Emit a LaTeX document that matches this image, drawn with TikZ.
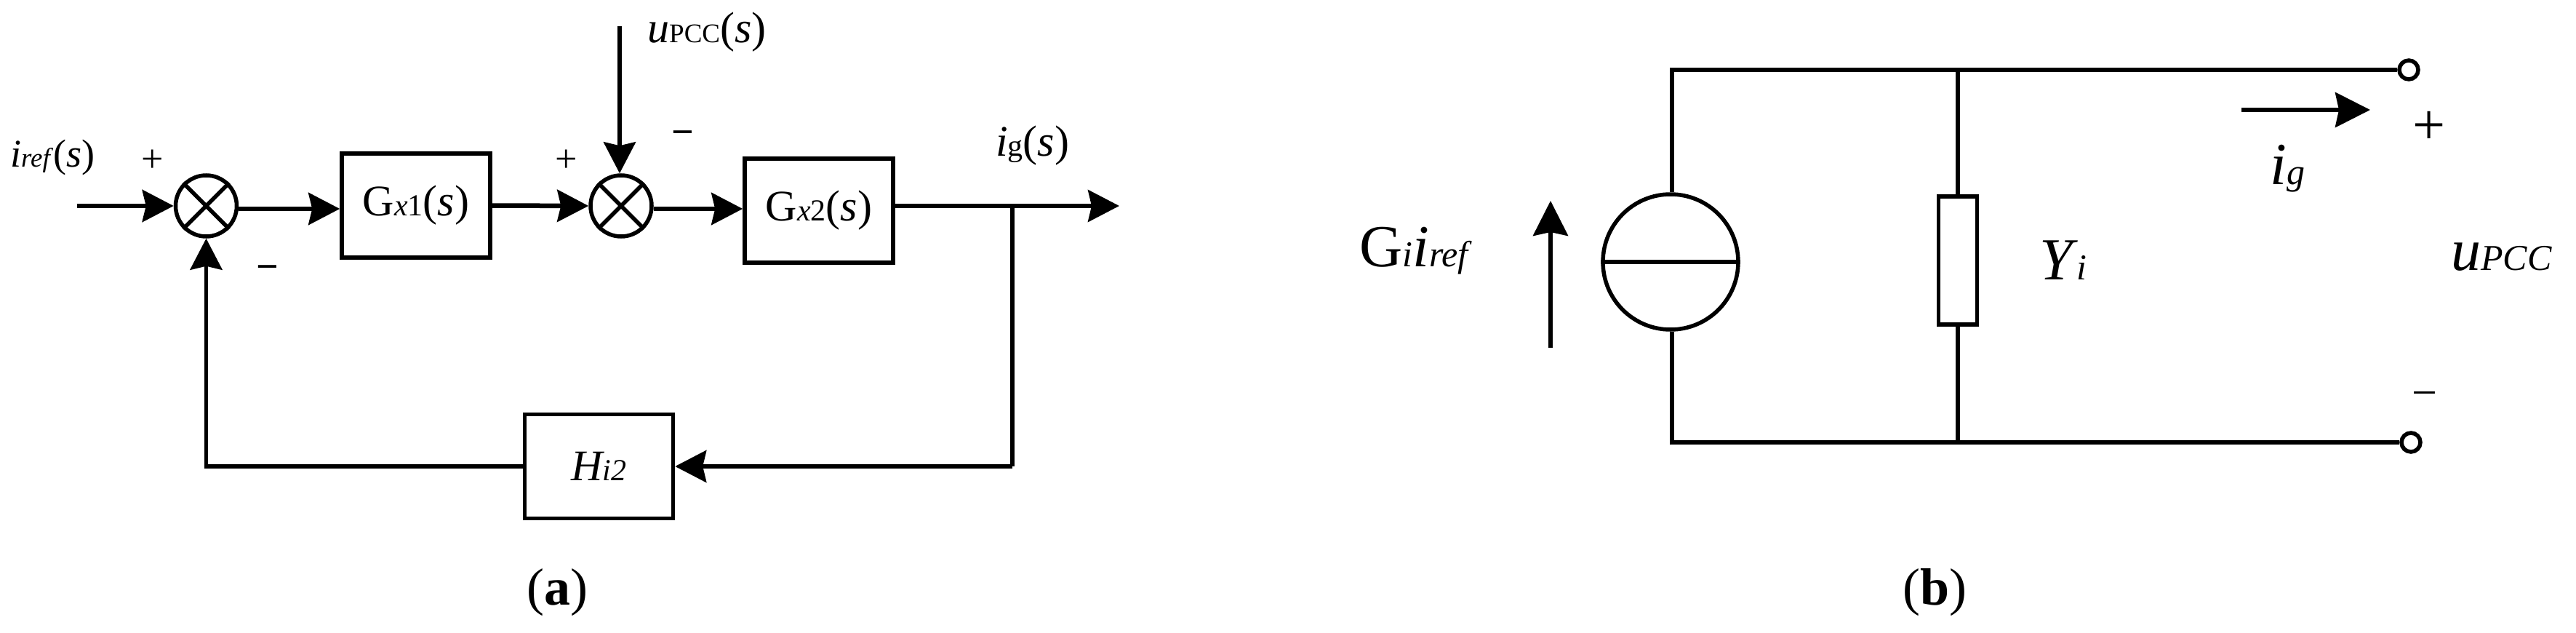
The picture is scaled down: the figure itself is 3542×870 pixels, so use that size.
\documentclass[tikz,border=0pt]{standalone}
\usepackage{fontspec}
\setmainfont{Liberation Serif}
\usetikzlibrary{arrows.meta,calc}
\newcommand{\lo}[1]{{\fontsize{42}{42}\selectfont #1}}
\newcommand{\loo}[1]{{\fontsize{37}{37}\selectfont #1}}
\newcommand{\lob}[1]{{\fontsize{50}{50}\selectfont #1}}
\tikzset{
  wire/.style={line width=5.5pt,black},
  flow/.style={wire,-{Stealth[length=43pt,width=44pt,inset=5pt]}},
  shortflow/.style={flow,line width=6.5pt},
  bigflow/.style={wire,-{Stealth[length=48pt,width=48pt,inset=5pt]}},
  blockbox/.style={draw,line width=5.5pt,minimum width=204pt,minimum height=143pt,inner sep=0pt,font=\fontsize{60}{60}\selectfont},
  sumnode/.style={draw,circle,line width=5.5pt,minimum size=84pt,inner sep=0pt},
  lab/.style={inner sep=0pt,font=\fontsize{60}{60}\selectfont},
  smalllab/.style={inner sep=0pt,font=\fontsize{54}{54}\selectfont},
  biglab/.style={inner sep=0pt,font=\fontsize{82}{82}\selectfont},
  signmark/.style={inner sep=0pt,font=\fontsize{54}{54}\selectfont},
  bigsign/.style={inner sep=0pt,font=\fontsize{80}{80}\selectfont},
  minussign/.style={inner sep=0pt,font=\fontsize{62}{62}\selectfont},
  captext/.style={inner sep=0pt,font=\fontsize{72}{72}\selectfont},
  term/.style={draw,circle,line width=5.5pt,fill=white,minimum size=26pt,inner sep=0pt},
}
\begin{document}
\begin{tikzpicture}[x=1pt,y=-1pt]
\useasboundingbox (0,0) rectangle (3542,870);
% panel a
\node[sumnode] (s1) at (283.5,283) {};
\node[sumnode] (s2) at (854,283) {};
\foreach \s in {s1,s2}{
  \draw[line width=5.5pt] (\s.45) -- (\s.225) (\s.135) -- (\s.315);
}
\node[blockbox] (b1) at (572,282.5) {G\lo{\textit{x}1}(\textit{s})};
\node[blockbox] (b2) at (1126,289.5) {G\lo{\textit{x}2}(\textit{s})};
\node[blockbox] (h) at (823.5,641) {\textit{H\lo{i2}}};
\coordinate (in) at (106,283);
\coordinate (top) at (852,36);
\coordinate (out) at (1539,283);
\coordinate (br) at (1392,283);
\coordinate (brd) at (1392,641);
\draw[shortflow] (in) -- (in -| s1.west);
\draw[shortflow] ([yshift=-4pt]s1.east) -- ([yshift=-4.5pt]b1.west);
\draw[shortflow] (b1.east) -- (s2.west);
\draw[shortflow] ([yshift=-4pt]s2.east) -- ([yshift=2.5pt]b2.west);
\draw[flow] (top) -- (s2.north -| top);
\draw[flow] ([yshift=6.5pt]b2.east) -- (out);
\draw[wire] (br) -- (brd);
\draw[flow] (brd) -- (h.east);
\draw[flow] (h.west) -| (s1.south);
\node[smalllab,anchor=west] (tiref) at (14,217) {\textit{i\loo{ref}}(\textit{s})};
\node[lab,anchor=west] (tupcc) at (890,44) {\textit{u}\loo{PCC}(\textit{s})};
\node[lab,anchor=west] (tig) at (1369,200) {\textit{i}\lo{g}(\textit{s})};
\node[signmark] (p1) at (210,221) {+};
\node[signmark] (m1) at (368,375) {\textbf{−}};
\node[signmark] (p2) at (779,221) {+};
\node[signmark] (m2) at (939,190) {\textbf{−}};
\node[captext] (ca) at (766,814) {(\textbf{a})};
% panel b
\node[draw,circle,line width=5.5pt,minimum size=186pt,inner sep=0pt] (src) at (2297,360) {};
\draw[wire] (src.west) -- (src.east);
\node[draw,line width=5.5pt,minimum width=53pt,minimum height=176pt,inner sep=0pt] (r) at (2692,358) {};
\node[term] (t1) at (3312,96) {};
\node[term] (t2) at (3315,608) {};
\coordinate (tl) at (2299,96);
\coordinate (bl) at (2299,608);
\draw[wire] (src.north -| tl) -- (tl) -- (t1.west);
\draw[wire] (src.south -| bl) -- (bl) -- (t2.west);
\draw[wire] (r.north) -- (r.north |- t1);
\draw[wire] (r.south) -- (r.south |- t2);
\coordinate (ga) at (2132,478);
\coordinate (gb) at (2132,276);
\draw[bigflow] (ga) -- (gb);
\coordinate (ia) at (3082,151);
\coordinate (ib) at (3259,151);
\draw[bigflow] (ia) -- (ib);
\node[biglab,anchor=west] (tg) at (1869,345) {G\lob{\textit{i}}\textit{i}\lob{\textit{ref}}};
\node[biglab,anchor=west] (ty) at (2804,358) {\textit{Y\hspace{6pt}\lob{i}}};
\node[biglab,anchor=west] (tg2) at (3121,232) {\textit{i\lob{g}}};
\node[biglab,anchor=west] (tu) at (3370,353) {\textit{u\lob{PCC}}};
\node[bigsign] (p3) at (3340,176) {+};
\node[minussign] (m3) at (3334,549) {−};
\node[captext] (cb) at (2660,814) {(\textbf{b})};
\end{tikzpicture}
\end{document}
